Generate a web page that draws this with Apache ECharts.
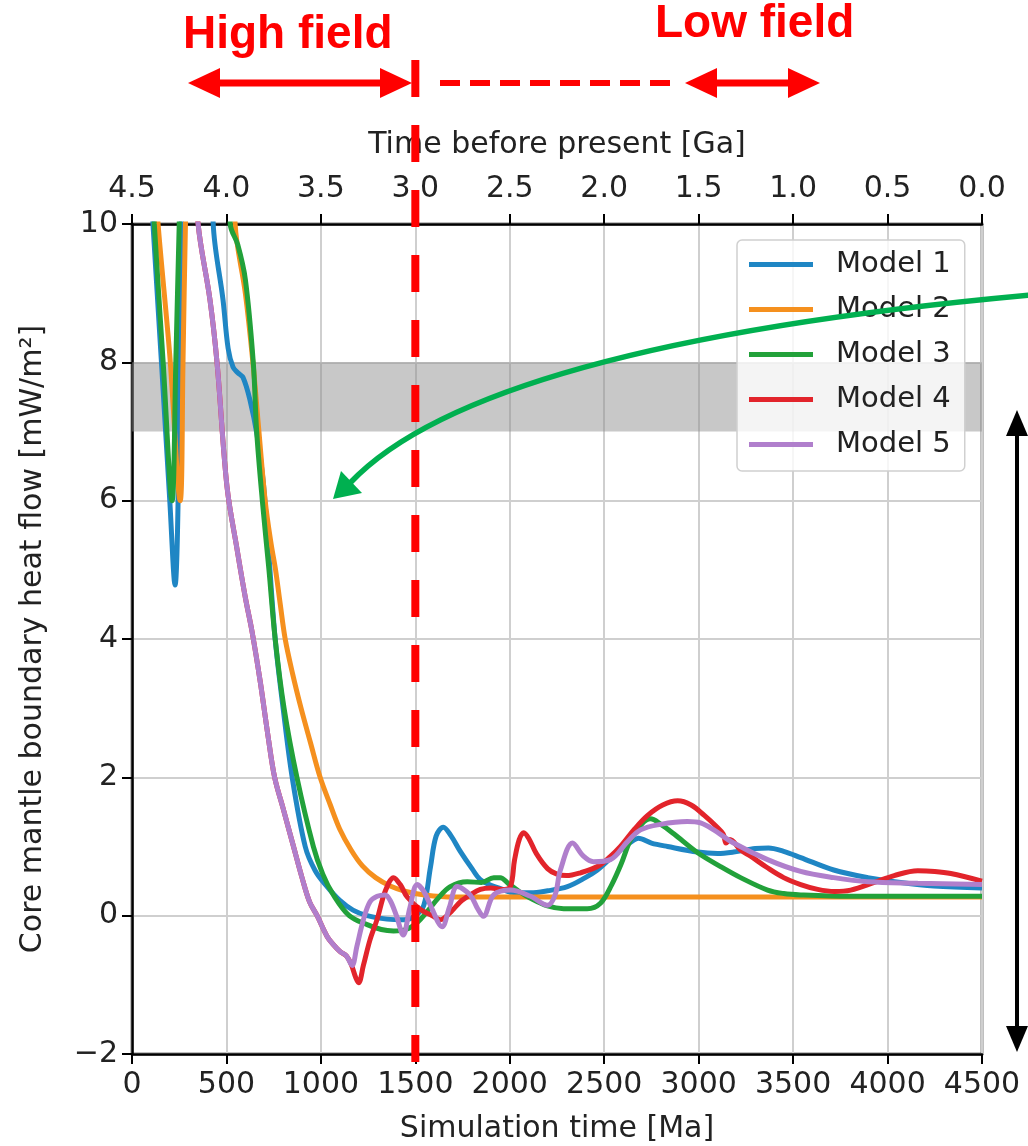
<!DOCTYPE html>
<html>
<head>
<meta charset="utf-8">
<title>Core mantle boundary heat flow</title>
<script src="https://cdn.jsdelivr.net/npm/echarts@6/dist/echarts.min.js"></script>
<style>
  html, body { margin: 0; padding: 0; background: #fff; }
  #chart { width: 1028px; height: 1146px; }
</style>
</head>
<body>
<div id="chart"></div>
<script>
// [simulation time Ma, heat flow mW/m2]
const model1 = [[80,11.5],[111,10],[156,8],[200,6],[228,4.78],[244,6],[260,10],[290,14],[400,14],[430,10],[482,8.9],[509,8.2],[535,7.93],[560,7.85],[588,7.78],[625,7.45],[662,6.95],[694,6.3],[720,5.4],[758,4.0],[800,3.0],[848,2.0],[917,1.0],[970,0.65],[1033,0.42],[1100,0.22],[1170,0.08],[1245,0.0],[1350,-0.05],[1440,-0.06],[1500,0.0],[1545,0.15],[1580,0.7],[1610,1.15],[1648,1.28],[1690,1.15],[1738,0.93],[1800,0.68],[1844,0.52],[1900,0.44],[1950,0.39],[2003,0.34],[2110,0.33],[2200,0.36],[2305,0.42],[2400,0.55],[2464,0.66],[2530,0.82],[2586,0.95],[2650,1.08],[2680,1.12],[2750,1.05],[2835,1.0],[2995,0.92],[3100,0.9],[3185,0.92],[3300,0.97],[3370,0.98],[3450,0.93],[3540,0.84],[3715,0.66],[3895,0.55],[4070,0.48],[4245,0.43],[4500,0.4]];
const model2 = [[100,11.5],[138,10],[200,8.1],[255,6.0],[270,8],[283,10],[320,14],[510,14],[546,10],[600,9.0],[640,8.0],[672,7.0],[705,6.0],[735,5.4],[760,5.0],[785,4.5],[811,4.0],[850,3.5],[895,3.0],[945,2.5],[996,2.0],[1050,1.6],[1100,1.25],[1160,0.95],[1220,0.72],[1290,0.55],[1367,0.43],[1450,0.35],[1550,0.3],[1700,0.27],[2500,0.27],[4500,0.27]];
const model3 = [[90,11.5],[118,10],[165,8],[212,6.0],[232,8],[250,10],[290,14],[480,14],[520,10],[560,9.7],[600,9.2],[642,8.0],[660,7.0],[690,6.0],[725,5.0],[758,4.0],[805,3.0],[873,2.0],[960,1.0],[1010,0.6],[1066,0.3],[1150,0.0],[1245,-0.13],[1320,-0.2],[1385,-0.22],[1450,-0.2],[1510,-0.1],[1560,0.05],[1620,0.25],[1685,0.42],[1775,0.49],[1850,0.48],[1915,0.55],[1950,0.55],[1990,0.47],[2050,0.35],[2110,0.25],[2200,0.14],[2285,0.1],[2410,0.1],[2480,0.18],[2540,0.45],[2590,0.75],[2640,1.1],[2700,1.33],[2745,1.4],[2800,1.32],[2870,1.18],[2995,0.91],[3116,0.71],[3222,0.55],[3365,0.37],[3450,0.32],[3540,0.3],[3800,0.28],[4500,0.28]];
const model4 = [[320,11.5],[350,10],[413,8.9],[450,8.0],[503,6.2],[556,5.3],[600,4.6],[636,4.1],[678,3.4],[720,2.6],[755,2.0],[800,1.55],[855,1.0],[900,0.55],[940,0.2],[980,0.0],[1033,-0.3],[1066,-0.42],[1102,-0.52],[1135,-0.58],[1160,-0.7],[1185,-0.9],[1200,-0.97],[1225,-0.72],[1260,-0.35],[1298,-0.05],[1340,0.35],[1385,0.55],[1420,0.45],[1457,0.27],[1527,0.09],[1590,0.0],[1632,-0.06],[1690,0.06],[1738,0.2],[1790,0.3],[1844,0.38],[1900,0.4],[1960,0.38],[2003,0.42],[2025,0.8],[2050,1.1],[2074,1.2],[2100,1.12],[2140,0.9],[2200,0.68],[2250,0.6],[2300,0.58],[2374,0.62],[2464,0.71],[2530,0.85],[2586,1.0],[2660,1.25],[2730,1.45],[2810,1.6],[2889,1.66],[2960,1.6],[3030,1.45],[3090,1.3],[3130,1.18],[3145,1.05],[3165,1.1],[3222,0.95],[3275,0.86],[3360,0.7],[3450,0.55],[3540,0.45],[3630,0.38],[3720,0.35],[3805,0.37],[3930,0.48],[4035,0.58],[4160,0.65],[4250,0.64],[4335,0.61],[4500,0.5]];
const model5 = [[320,11.5],[350,10],[413,8.9],[450,8.0],[503,6.2],[556,5.3],[600,4.6],[636,4.1],[678,3.4],[720,2.6],[755,2.0],[800,1.55],[855,1.0],[900,0.55],[940,0.2],[980,0.0],[1033,-0.3],[1066,-0.42],[1102,-0.52],[1135,-0.58],[1165,-0.72],[1190,-0.45],[1225,-0.06],[1260,0.2],[1298,0.28],[1340,0.3],[1367,0.22],[1400,0.0],[1436,-0.28],[1470,0.1],[1510,0.45],[1545,0.35],[1580,0.15],[1642,-0.16],[1680,0.12],[1722,0.42],[1790,0.3],[1830,0.1],[1860,-0.01],[1915,0.3],[2003,0.37],[2110,0.28],[2200,0.15],[2240,0.3],[2268,0.66],[2332,1.05],[2390,0.86],[2443,0.78],[2533,0.81],[2623,1.07],[2692,1.24],[2798,1.32],[2940,1.36],[3010,1.34],[3080,1.24],[3185,1.05],[3365,0.81],[3540,0.64],[3715,0.55],[3895,0.49],[4160,0.47],[4500,0.45]];

const modelNames = ['Model 1', 'Model 2', 'Model 3', 'Model 4', 'Model 5'];
const modelColors = ['#1f86c4', '#f5901e', '#22a13a', '#e2242b', '#b07fcc'];
const modelData = [model1, model2, model3, model4, model5];

const bandRange = [7, 8];      // grey reference band
const fieldSwitch = 1500;      // red dashed marker, Ma

const FONT = 'DejaVu Sans';
const RED = '#ff0000';

const chart = echarts.init(document.getElementById('chart'));

const axisCommon = {
  axisLine: { show: true, onZero: false, lineStyle: { color: '#000', width: 2.5 } },
  axisTick: { show: true, length: 10, lineStyle: { color: '#000', width: 2 } },
  axisLabel: { color: '#222', fontSize: 30, fontFamily: FONT, margin: 16 },
  nameTextStyle: { color: '#222', fontSize: 30, fontFamily: FONT }
};

const series = modelData.map((d, i) => ({
  name: modelNames[i],
  type: 'line',
  data: d,
  smooth: 0.35,
  showSymbol: false,
  clip: true,
  lineStyle: { color: modelColors[i], width: 5 },
  itemStyle: { color: modelColors[i] },
  z: 2 + i
}));

series[0].markArea = {
  silent: true,
  itemStyle: { color: 'rgba(140,140,140,0.48)' },
  data: [[{ yAxis: bandRange[0] }, { yAxis: bandRange[1] }]]
};

chart.setOption({
  animation: false,
  backgroundColor: '#fff',
  grid: {
    left: 132, right: 46, top: 224, bottom: 92,
    outerBoundsMode: 'none', containLabel: false,
    show: true, borderColor: '#000', borderWidth: 2.5
  },
  legend: {
    orient: 'vertical',
    left: 737, top: 240,
    icon: 'rect',
    itemWidth: 64, itemHeight: 5,
    itemGap: 16,
    padding: [10, 14, 12, 12],
    backgroundColor: 'rgba(255,255,255,0.8)',
    borderColor: '#d0d0d0', borderWidth: 1.5, borderRadius: 5,
    textStyle: { fontSize: 29, fontFamily: FONT, color: '#222', padding: [0, 0, 0, 18] },
    data: modelNames
  },
  xAxis: [
    Object.assign({}, axisCommon, {
      type: 'value', min: 0, max: 4500, interval: 500,
      name: 'Simulation time [Ma]', nameLocation: 'middle', nameGap: 60,
      axisLabel: Object.assign({}, axisCommon.axisLabel, { formatter: v => String(v) }),
      splitLine: { show: true, lineStyle: { color: '#cfcfcf', width: 2 } }
    }),
    Object.assign({}, axisCommon, {
      type: 'value', position: 'top', min: 0, max: 4.5, interval: 0.5, inverse: true,
      name: 'Time before present [Ga]', nameLocation: 'middle', nameGap: 64,
      axisLabel: Object.assign({}, axisCommon.axisLabel, { margin: 20, formatter: v => v.toFixed(1) }),
      splitLine: { show: false }
    })
  ],
  yAxis: Object.assign({}, axisCommon, {
    type: 'value', min: -2, max: 10, interval: 2,
    name: 'Core mantle boundary heat flow [mW/m\u00b2]', nameLocation: 'middle', nameGap: 84,
    axisLabel: Object.assign({}, axisCommon.axisLabel, {
      margin: 14,
      formatter: v => (v < 0 ? '\u2212' + Math.abs(v) : String(v))
    }),
    splitLine: { show: true, lineStyle: { color: '#cfcfcf', width: 2 } }
  }),
  series: series
});

// annotations drawn on top of the plot
const lineX = chart.convertToPixel({ xAxisIndex: 0 }, fieldSwitch);

function doubleArrow(x1, x2, y, w, headL, headW) {
  return [
    { type: 'line', shape: { x1: x1 + headL - 2, y1: y, x2: x2 - headL + 2, y2: y }, style: { stroke: RED, lineWidth: w } },
    { type: 'polygon', shape: { points: [[x1, y], [x1 + headL, y - headW], [x1 + headL, y + headW]] }, style: { fill: RED } },
    { type: 'polygon', shape: { points: [[x2, y], [x2 - headL, y - headW], [x2 - headL, y + headW]] }, style: { fill: RED } }
  ];
}

const arrowTip = [333, 499];
const graphics = [
  { type: 'text', x: 183, y: 35, style: { text: 'High field', font: 'bold 46px "Liberation Sans"', fill: RED, textVerticalAlign: 'middle' } },
  { type: 'text', x: 655, y: 24, style: { text: 'Low field', font: 'bold 46px "Liberation Sans"', fill: RED, textVerticalAlign: 'middle' } },
  ...doubleArrow(188, 412, 83, 7, 32, 15),
  { type: 'line', shape: { x1: 440, y1: 83, x2: 670, y2: 83 }, style: { stroke: RED, lineWidth: 6, lineDash: [20, 10] } },
  ...doubleArrow(685, 820, 83, 7, 32, 15),
  { type: 'line', shape: { x1: lineX, y1: 60, x2: lineX, y2: 1062 }, style: { stroke: RED, lineWidth: 8, lineDash: [37, 28] } },
  // green curved pointer
  { type: 'bezierCurve', shape: { x1: 1030, y1: 295, cpx1: 480, cpy1: 345, x2: 350, y2: 483 }, style: { stroke: '#00b050', lineWidth: 5.5, fill: null } },
  { type: 'polygon', shape: { points: [arrowTip, [362, 493], [341, 471]] }, style: { fill: '#00b050' } },
  // black vertical double arrow
  { type: 'line', shape: { x1: 1017, y1: 432, x2: 1017, y2: 1030 }, style: { stroke: '#000', lineWidth: 4 } },
  { type: 'polygon', shape: { points: [[1017, 410], [1006, 436], [1028, 436]] }, style: { fill: '#000' } },
  { type: 'polygon', shape: { points: [[1017, 1052], [1006, 1026], [1028, 1026]] }, style: { fill: '#000' } }
];

chart.setOption({
  graphic: graphics.map(g => Object.assign({ z: 100, silent: true }, g))
});
</script>
</body>
</html>
